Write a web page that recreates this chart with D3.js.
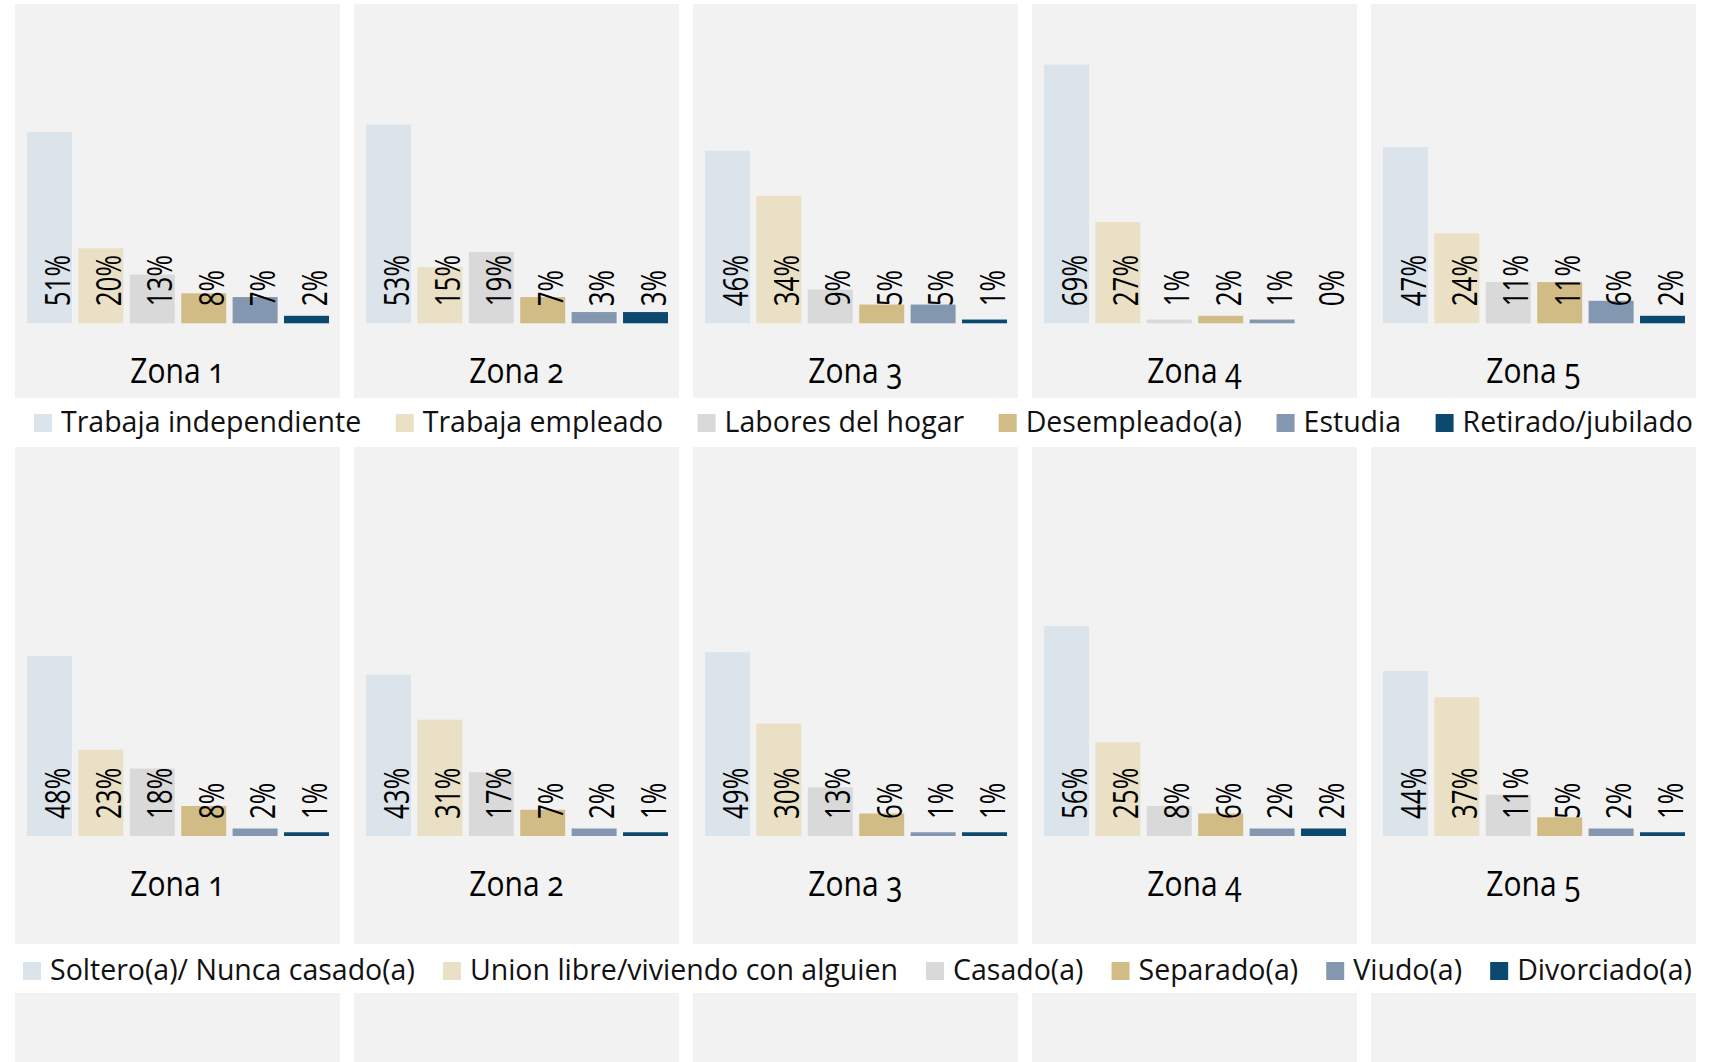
<!DOCTYPE html>
<html>
<head>
<meta charset="utf-8">
<script src="https://cdn.jsdelivr.net/npm/d3@7"></script>
<style>
  html, body { margin: 0; padding: 0; background: #ffffff; }
  svg { display: block; font-family: "Open Sans", "Noto Sans", sans-serif; }
  .zona { font-variant-numeric: oldstyle-nums; font-feature-settings: "onum" 1; }
</style>
</head>
<body>
<svg id="chart" width="1718" height="1062"></svg>
<script>
// Zones shown in each row of small multiples
const zonas = ["Zona 1", "Zona 2", "Zona 3", "Zona 4", "Zona 5"];

// Occupation (%) by zone
const ocupacionCats = ["Trabaja independiente", "Trabaja empleado", "Labores del hogar",
                       "Desempleado(a)", "Estudia", "Retirado/jubilado"];
const ocupacionValues = [
  [51, 20, 13, 8, 7, 2],
  [53, 15, 19, 7, 3, 3],
  [46, 34, 9, 5, 5, 1],
  [69, 27, 1, 2, 1, 0],
  [47, 24, 11, 11, 6, 2]
];

// Marital status (%) by zone
const estadoCivilCats = ["Soltero(a)/ Nunca casado(a)", "Union libre/viviendo con alguien", "Casado(a)",
                         "Separado(a)", "Viudo(a)", "Divorciado(a)"];
const estadoCivilValues = [
  [48, 23, 18, 8, 2, 1],
  [43, 31, 17, 7, 2, 1],
  [49, 30, 13, 6, 1, 1],
  [56, 25, 8, 6, 2, 2],
  [44, 37, 11, 5, 2, 1]
];

const seriesColors = ["#dce4eb", "#eae0c5", "#d9d9d9", "#d2bc86", "#8497b0", "#0b4a6e"];

const svg = d3.select("#chart");
const panelFill = "#f2f2f2";
const labelStretch = 1.3;  // tall value labels
const zonaStretch = 1.15;  // slightly condensed zone titles

// Panel columns shared by every row
const panelX = d3.scaleBand().domain(zonas).range([15, 1696]).paddingInner(0.0413);
const bw = panelX.bandwidth();

const rows = [
  { cats: ocupacionCats, values: ocupacionValues, top: 4, bottom: 398, base: 323.3,
    legendBaseline: 432, legendSpan: [34, 1693] },
  { cats: estadoCivilCats, values: estadoCivilValues, top: 447, bottom: 944, base: 836,
    legendBaseline: 980, legendSpan: [23, 1692] }
];

rows.forEach(row => {
  const y = d3.scaleLinear().domain([0, 80]).range([row.base, row.base - 300]);
  const x = d3.scaleBand().domain(row.cats).range([12, bw - 11]).paddingInner(0.125);
  const color = d3.scaleOrdinal().domain(row.cats).range(seriesColors);

  zonas.forEach((zona, zi) => {
    const g = svg.append("g").attr("transform", `translate(${panelX(zona)},0)`);
    g.append("rect")
      .attr("x", 0).attr("y", row.top)
      .attr("width", bw).attr("height", row.bottom - row.top)
      .attr("fill", panelFill);

    const data = row.cats.map((c, i) => ({ cat: c, value: row.values[zi][i] }));

    g.selectAll("rect.bar").data(data).join("rect")
      .attr("class", "bar")
      .attr("x", d => x(d.cat))
      .attr("y", d => y(d.value))
      .attr("width", x.bandwidth())
      .attr("height", d => y(0) - y(d.value))
      .attr("fill", d => color(d.cat));

    // Value labels, rotated, anchored just above the bar base
    g.selectAll("text.val").data(data).join("text")
      .attr("class", "val")
      .attr("transform", d => `translate(${x(d.cat) + x.bandwidth() / 2},${y(0) - 17}) rotate(-90) scale(1,${labelStretch})`)
      .attr("dy", 15.5)
      .attr("text-anchor", "start")
      .attr("font-size", 26)
      .attr("fill", "#000")
      .text(d => d.value + "%");

    g.append("text")
      .attr("class", "zona")
      .attr("transform", `translate(${bw / 2},${row.base + 60}) scale(1,${zonaStretch})`)
      .attr("text-anchor", "middle")
      .attr("font-size", 30)
      .attr("fill", "#000")
      .text(zona);
  });

  // Legend spread across the full width with equal gaps between entries
  const lg = svg.append("g");
  const items = lg.selectAll("g").data(row.cats).join("g");
  items.append("rect")
    .attr("x", 0).attr("y", row.legendBaseline - 18)
    .attr("width", 18).attr("height", 18)
    .attr("fill", d => color(d));
  items.append("text")
    .attr("x", 27).attr("y", row.legendBaseline)
    .attr("font-size", 28.5)
    .attr("fill", "#111")
    .text(d => d);
  const widths = [];
  items.each(function () { widths.push(27 + d3.select(this).select("text").node().getComputedTextLength()); });
  const total = d3.sum(widths);
  const gap = (row.legendSpan[1] - row.legendSpan[0] - total) / (row.cats.length - 1);
  let cx = row.legendSpan[0];
  items.attr("transform", (d, i) => {
    const t = `translate(${cx},0)`;
    cx += widths[i] + gap;
    return t;
  });
});

// Next row of panels, cut off at the bottom edge
zonas.forEach(zona => {
  svg.append("rect")
    .attr("x", panelX(zona)).attr("y", 993)
    .attr("width", bw).attr("height", 90)
    .attr("fill", panelFill);
});
</script>
</body>
</html>
